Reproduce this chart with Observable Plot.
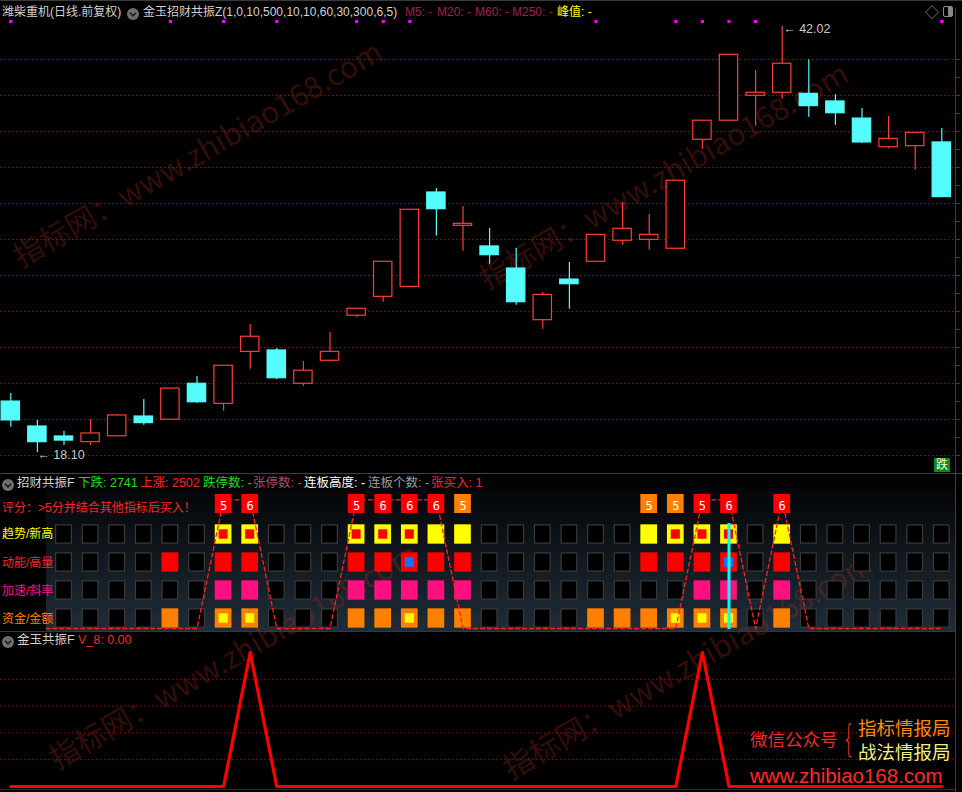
<!DOCTYPE html>
<html><head><meta charset="utf-8">
<script src="https://cdn.jsdelivr.net/npm/d3@7"></script>
<script src="https://cdn.jsdelivr.net/npm/@observablehq/plot@0.6"></script>
<style>
html,body{margin:0;padding:0;background:#000;}
#root{position:relative;width:962px;height:792px;overflow:hidden;background:#000;font-family:"Liberation Sans","Noto Sans CJK SC",sans-serif;}
#root svg{position:absolute;left:0;background:transparent !important;overflow:visible;max-width:none;}
.t{position:absolute;white-space:nowrap;line-height:1;transform:translateY(-50%);}
.blk{position:absolute;}
</style></head><body><div id="root"></div>
<script>
// ---------------- data ----------------
const stockTitle = "潍柴重机(日线.前复权)";
const indicatorTitle = "金玉招财共振Z(1,0,10,500,10,10,60,30,300,6,5)";
const maLabels = ["M5: -", "M20: -", "M60: -", "M250: -"];
const peakLabel = "峰值: -";

const opens  = [20.96,19.56,19.00,18.68,19.01,20.12,19.94,21.96,20.83,23.75,23.83,21.96,23.25,25.78,26.84,27.40,32.70,30.83,29.67,28.43,25.53,27.81,28.81,29.99,30.04,29.54,35.66,36.73,38.13,38.30,38.24,37.81,36.85,35.24,35.30,35.51];
const closes = [19.90,18.68,18.77,19.17,20.18,19.75,21.69,20.92,22.97,24.60,22.27,22.69,23.75,26.17,28.81,31.73,31.76,30.94,29.18,26.54,26.95,27.55,30.32,30.66,30.32,33.36,36.73,40.43,38.30,39.93,37.55,37.15,35.51,35.71,36.05,32.44];
const highs  = [21.41,19.90,19.28,19.95,20.23,21.08,21.69,22.37,22.97,25.29,23.94,23.21,24.84,26.17,28.81,31.73,32.92,31.91,30.68,29.55,27.08,28.77,30.32,32.14,31.46,33.36,36.73,40.43,39.55,42.02,40.15,38.19,37.42,36.97,36.05,36.29];
const lows   = [19.52,18.10,18.49,18.49,19.01,19.63,19.94,20.87,20.42,22.78,22.18,21.82,23.25,25.70,26.54,27.40,30.25,29.40,28.67,26.37,25.02,26.15,28.81,29.74,29.46,29.54,35.13,36.73,36.42,37.94,36.93,36.48,35.45,35.15,33.95,32.44];
const gridPrices = [40.17,38.15,36.12,34.10,32.08,30.06,28.04,26.02,24.00,21.97,19.95,17.93];
const markBars = [0,6,8,10,13,14,15,22,25,26,27,28,35];

const panel2Stats = [
  {t:"下跌: 2741", c:"#22dd22"}, {t:"上涨: 2502", c:"#ff2424"}, {t:"跌停数: -", c:"#22dd22"},
  {t:"张停数: -", c:"#a8506a"}, {t:"连板高度: -", c:"#ffffff"}, {t:"连板个数: -", c:"#9c9c9c"}, {t:"张买入: 1", c:"#ff2424"}
];
const scoreNote = "评分：>5分并结合其他指标后买入！";
const rows = ["趋势/新高","动能/高量","加速/斜率","资金/金额"];
const gridCols = d3.range(2, 36);
const trendOn = [8,9,13,14,15,16,17,24,25,26,27,29];
const trendCore = [8,9,13,14,15,25,26,27];
const momentumOn = [6,8,9,13,14,15,16,17,24,25,26,27,29];
const momentumCore = [15,27];
const accelOn = [8,9,13,14,15,16,17,26,27,29];
const fundOn = [6,8,9,13,14,15,16,17,22,23,24,25,26,27,29];
const fundCore = [8,9,15,25,26,27];
const scoreCols = [8,9,13,14,15,16,17,24,25,26,27,29];
const scoreVals = [5,6,5,6,6,6,5,5,5,5,6,6];
const signal = [0,0,0,0,0,0,0,0,1,1,0,0,0,1,1,1,1,0,0,0,0,0,0,0,0,0,1,1,0,1,0,0,0,0,0,0];
const cursorBar = 27;

const v8 = [0,0,0,0,0,0,0,0,0,100,0,0,0,0,0,0,0,0,0,0,0,0,0,0,0,0,100,0,0,0,0,0,0,0,0,0];
const v8Grid = [20,40,60,80];

// ---------------- helpers ----------------
const root = document.getElementById("root");
function box(l, t, w, h, bg, extra={}) {
  const d = document.createElement("div"); d.className="blk";
  Object.assign(d.style, {left:l+"px", top:t+"px", width:w+"px", height:h+"px", background:bg}, extra);
  root.appendChild(d); return d;
}
function txt(x, yc, s, color, size=12, extra={}) {
  const d = document.createElement("div"); d.className="t"; d.textContent=s;
  Object.assign(d.style, {left:x+"px", top:yc+"px", color, fontSize:size+"px"}, extra);
  root.appendChild(d); return d;
}
function icon(cx, cy) {
  const d = document.createElement("div"); d.className="blk";
  Object.assign(d.style, {left:(cx-6)+"px", top:(cy-6)+"px", width:"12px", height:"12px"});
  d.innerHTML = '<svg width="12" height="12" style="position:static"><circle cx="6" cy="6" r="6" fill="#6e6e6e"/><polyline points="3,4.8 6,7.8 9,4.8" fill="none" stroke="#1a1a1a" stroke-width="1.6"/></svg>';
  root.appendChild(d);
}
function place(svg, top) { svg.style.top = top + "px"; root.appendChild(svg); }

// ---------------- backgrounds ----------------
box(46, 474, 909, 157, "linear-gradient(to bottom, #000 0%, #070a0d 20%, #202c38 100%)");

// watermarks
function wm(x, y) {
  const d = document.createElement("div"); d.className="blk";
  d.textContent = "指标网：www.zhibiao168.com";
  Object.assign(d.style, {left:x+"px", top:(y-30)+"px", width:"max-content", fontSize:"30px", lineHeight:"30px", whiteSpace:"nowrap",
    color:"rgba(165,45,30,0.33)", fontFamily:'"Noto Sans CJK SC",sans-serif', transformOrigin:"0 100%", transform:"rotate(-30deg)"});
  root.appendChild(d);
}
wm(22, 270); wm(488, 292); wm(58, 772); wm(512, 782);

// ---------------- panel 1: candles ----------------
const xScale = {type:"linear", domain:[0,35], range:[10.3, 941.3], axis:null};
const candles = opens.map((o,i)=>({i, open:o, close:closes[i], high:highs[i], low:lows[i]}));
const up = d => d.close >= d.open;
const RED = "#ff3c3c", CYAN = "#54fcfc";
const hiBar = d3.maxIndex(highs), loBar = d3.minIndex(lows);
const axisTicks = d3.range(0, gridPrices.length - 1).flatMap(k => [gridPrices[k], (gridPrices[k]+gridPrices[k+1])/2]).concat([gridPrices[gridPrices.length-1]]);

const p1 = Plot.plot({
  width:962, height:472, margin:0,
  x: xScale,
  y: {domain:[18.10, 42.02], range:[452, 26], axis:null},
  style:{background:"transparent"},
  marks:[
    Plot.ruleY(gridPrices, {y:d=>d, stroke:"#b00000", strokeDasharray:"1,3", insetRight:7}),
    Plot.ruleY(axisTicks, {y:d=>d, stroke:"#d00000", insetLeft:955, insetRight:2}),
    Plot.ruleX(candles, {x:"i", y1:"low", y2:"high", stroke:d=>up(d)?RED:CYAN, strokeWidth:1.2}),
    Plot.rect(candles, {x1:d=>d.i-0.345, x2:d=>d.i+0.345, y1:"open", y2:"close",
      fill:d=>up(d)?"#000":CYAN, stroke:d=>up(d)?RED:CYAN, strokeWidth:1.2}),
    Plot.dot(markBars, {x:d=>d, frameAnchor:"top", dy:21, symbol:"square", r:1.8, fill:"#ff00ff", stroke:null}),
    Plot.text([{i:hiBar, p:highs[hiBar]}], {x:"i", y:"p", text:d=>"← "+d.p.toFixed(2), textAnchor:"start", dx:1, dy:2.5,
      fill:"#c8c8c8", fontSize:12.5, fontFamily:"Liberation Sans"}),
    Plot.text([{i:loBar, p:lows[loBar]}], {x:"i", y:"p", text:d=>"← "+d.p.toFixed(2), textAnchor:"start", dx:0, dy:2.5,
      fill:"#c8c8c8", fontSize:12.5, fontFamily:"Liberation Sans"})
  ]
});
place(p1, 0);

// ---------------- panel 2: signal grid ----------------
const rowDefs = [
  {name:rows[0], on:trendOn, color:"#ffff00", core:trendCore, coreColor:"#ff0000"},
  {name:rows[1], on:momentumOn, color:"#ff0000", core:momentumCore, coreColor:"#0a78ff"},
  {name:rows[2], on:accelOn, color:"#ff1080", core:[], coreColor:null},
  {name:rows[3], on:fundOn, color:"#ff8000", core:fundCore, coreColor:"#ffff00"}
];
const cells = rowDefs.flatMap(r => gridCols.map(i => ({i, row:r.name, on:r.on.includes(i), color:r.color})));
const cores = rowDefs.flatMap(r => r.core.map(i => ({i, row:r.name, color:r.coreColor})));

const p2a = Plot.plot({
  width:962, height:160, margin:0,
  x: xScale,
  y: {type:"band", domain:rows, range:[46.67, 161.33], padding:0, axis:null},
  style:{background:"transparent"},
  marks:[
    Plot.barX(cells.filter(d=>!d.on), {x1:d=>d.i-0.295, x2:d=>d.i+0.295, y:"row", fill:"#000", stroke:"#3a3a3a", strokeWidth:1.2, insetTop:4.9, insetBottom:4.9}),
    Plot.barX(cells.filter(d=>d.on), {x1:d=>d.i-0.314, x2:d=>d.i+0.314, y:"row", fill:d=>d.color, insetTop:4.33, insetBottom:4.33}),
    Plot.barX(cores, {x1:d=>d.i-0.17, x2:d=>d.i+0.17, y:"row", fill:d=>d.color, insetTop:9.3, insetBottom:9.3}),
    Plot.ruleX([cursorBar], {x:d=>d, stroke:"#00ffff", strokeWidth:3, insetTop:51, insetBottom:3})
  ]
});
place(p2a, 472);

const p2b = Plot.plot({
  width:962, height:160, margin:0,
  x: xScale,
  y: {domain:[0,1], range:[156, 27.3], axis:null},
  style:{background:"transparent"},
  marks:[
    Plot.line(signal.map((v,i)=>({i,v})), {x:"i", y:"v", stroke:"#ff2020", strokeWidth:1.3, strokeDasharray:"4,3"})
  ]
});
place(p2b, 472);

const scores = scoreCols.map((i,k)=>({i, s:scoreVals[k]}));
const p2c = Plot.plot({
  width:962, height:160, margin:0,
  x: xScale,
  y: {type:"band", domain:["评分"], range:[22, 41], padding:0, axis:null},
  style:{background:"transparent"},
  marks:[
    Plot.barX(scores, {x1:d=>d.i-0.314, x2:d=>d.i+0.314, y:()=>"评分", fill:d=>signal[d.i]?"#ff0000":"#ff8000"}),
    Plot.text(scores, {x:"i", y:()=>"评分", text:d=>String(d.s), fill:"#ffffff", fontSize:12, dy:2.5, fontFamily:"DejaVu Sans Mono"})
  ]
});
place(p2c, 472);

// ---------------- panel 3: V_8 ----------------
const p3 = Plot.plot({
  width:962, height:160, margin:0,
  x: xScale,
  y: {domain:[0,100], range:[154, 20], axis:null},
  style:{background:"transparent"},
  marks:[
    Plot.ruleY(v8Grid, {y:d=>d, stroke:"#b00000", strokeDasharray:"1,3", insetRight:7}),
    Plot.line(v8.map((v,i)=>({i,v})), {x:"i", y:"v", stroke:"#ff0000", strokeWidth:3.2})
  ]
});
place(p3, 632);

// ---------------- frame lines ----------------
box(0, 0, 962, 1, "#3a3a3a");
box(0, 473, 962, 1, "#d00000");
box(0, 631, 955, 1, "#b00000");
box(0, 789, 955, 1, "#900000");
box(955, 8, 1, 784, "#c80000");

// label column block (covers left end of the dashed baseline)
box(0, 490, 46, 141, "#000");

// ---------------- texts ----------------
txt(2, 12, stockTitle, "#d2d2d2");
icon(133, 12);
txt(143, 12, indicatorTitle, "#d2d2d2");
[405, 437, 475, 512].forEach((x,k)=>txt(x, 12, maLabels[k], "#a3204e"));
txt(557, 12, peakLabel, "#ffff00");
txt(925, 12, "◇", "#8a8a8a", 14);
box(943, 6, 10, 11, "linear-gradient(to right, transparent 55%, #8a8a8a 55%)", {border:"1px solid #8a8a8a", borderRadius:"2px", boxSizing:"border-box"});

txt(934, 465, "跌", "#e8ffe8", 12, {background:"#128a12", padding:"1px 2px"});

icon(8, 483);
txt(17, 483, "招财共振F", "#d2d2d2", 12.5);
[78, 140, 203, 253, 304, 368, 431].forEach((x,k)=>txt(x, 483, panel2Stats[k].t, panel2Stats[k].c, 12.5));
txt(2, 508, scoreNote, "#ff2424");
const rowColors = ["#ffff00", "#ff2424", "#ff1080", "#ff8000"];
[534, 563, 591, 619].forEach((y,k)=>txt(2, y, rows[k], rowColors[k], 12));

icon(8, 640);
txt(17, 640, "金玉共振F", "#d2d2d2", 12.5);
txt(78, 640, "V_8: " + v8[v8.length-1].toFixed(2), "#ff2424", 12.5);

// promo block
const cjk = '"Noto Sans CJK SC",sans-serif';
txt(750, 739, "微信公众号", "#e62e2e", 17.5, {fontFamily:cjk});
txt(842, 738, "{", "#e62e2e", 38, {fontFamily:'"DejaVu Sans"', fontWeight:"200", transform:"translateY(-50%) scaleX(0.55)", transformOrigin:"0 0"});
txt(858, 727, "指标情报局", "#ff8c00", 18.5, {fontFamily:cjk});
txt(858, 751, "战法情报局", "#f4ef7c", 18.5, {fontFamily:cjk});
txt(750, 776, "www.zhibiao168.com", "#ff2a2a", 20.5, {fontFamily:'"Liberation Sans"'});
</script>
</body></html>
